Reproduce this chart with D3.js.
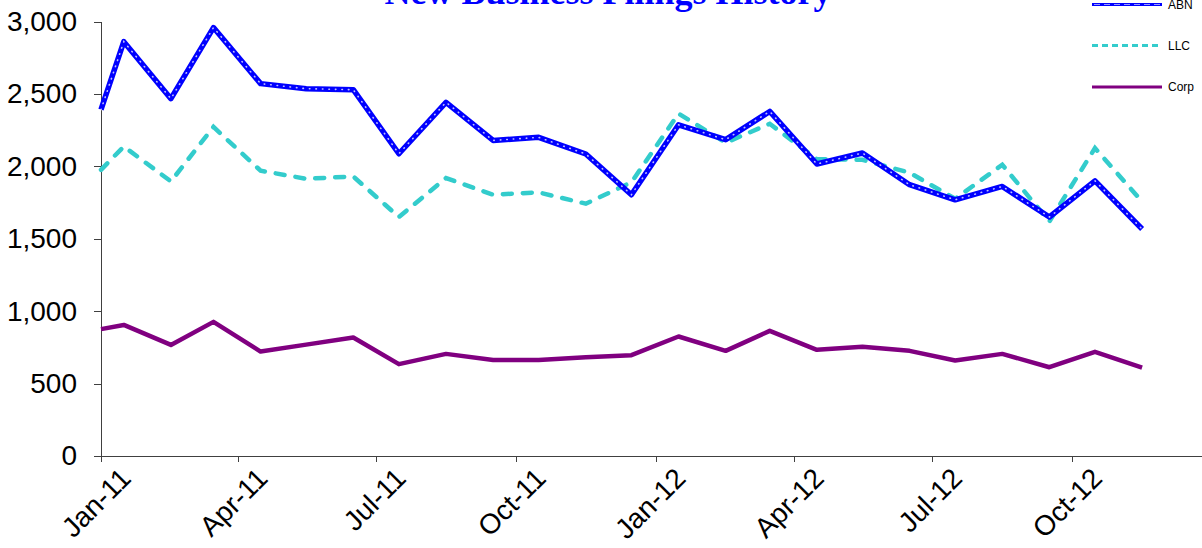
<!DOCTYPE html>
<html lang="en">
<head>
    <meta charset="UTF-8">
    <title>New Business Filings History</title>
    <script src="https://d3js.org/d3.v7.min.js"></script>
    <style>
        body {
            margin: 0;
            background-color: #ffffff;
            font-family: Arial, "Liberation Sans", sans-serif;
        }
        svg { display: block; }
        .axis path, .axis line {
            stroke: #404040;
            shape-rendering: crispEdges;
        }
        .tick text {
            font-size: 28px;
            fill: #000000;
            font-family: Arial, "Liberation Sans", sans-serif;
        }
    </style>
</head>
<body>
    <svg id="chart" width="1202" height="548"></svg>

    <script>
        // first point sits on the axis start, the rest are mid-month
        const dates = ["2011-01-01", "2011-01-16", "2011-02-16", "2011-03-16", "2011-04-16", "2011-05-16",
            "2011-06-16", "2011-07-16", "2011-08-16", "2011-09-16", "2011-10-16", "2011-11-16",
            "2011-12-16", "2012-01-16", "2012-02-16", "2012-03-16", "2012-04-16", "2012-05-16",
            "2012-06-16", "2012-07-16", "2012-08-16", "2012-09-16", "2012-10-16", "2012-11-16"];

        const abn = [2391, 2861, 2467, 2958, 2571, 2536, 2529, 2087, 2442, 2179, 2200, 2085,
            1804, 2287, 2184, 2379, 2016, 2092, 1873, 1769, 1861, 1650, 1900, 1567];
        const llc = [1976, 2137, 1896, 2272, 1970, 1914, 1930, 1650, 1919, 1804, 1820, 1742,
            1890, 2364, 2163, 2294, 2050, 2045, 1956, 1776, 2011, 1619, 2126, 1757];
        const corp = [876, 905, 767, 926, 721, 769, 818, 634, 705, 663, 663, 682,
            696, 825, 726, 864, 733, 755, 726, 659, 705, 613, 719, 610];

        const yTicks = [0, 500, 1000, 1500, 2000, 2500, 3000];
        const xTicks = ["2011-01-01", "2011-04-01", "2011-07-01", "2011-10-01",
            "2012-01-01", "2012-04-01", "2012-07-01", "2012-10-01"];
        const seriesNames = ["ABN", "LLC", "Corp"];

        const parse = d3.timeParse("%Y-%m-%d");
        const dateVals = dates.map(parse);

        const svg = d3.select("#chart");

        const x = d3.scaleTime()
            .domain([parse("2011-01-01"), parse("2013-01-01")])
            .range([101, 1212]);
        const y = d3.scaleLinear().domain([0, 3000]).range([456, 21.5]);

        // title (partly above the picture, as in the original)
        svg.append("text")
            .attr("x", 608)
            .attr("y", 4)
            .attr("text-anchor", "middle")
            .attr("font-family", "'Liberation Serif', 'Times New Roman', serif")
            .attr("font-weight", "bold")
            .attr("font-size", 36)
            .attr("fill", "#0000ff")
            .text("New Business Filings History");

        // axes
        const yAxis = d3.axisLeft(y).tickValues(yTicks).tickFormat(d3.format(",")).tickSize(7).tickSizeOuter(0).tickPadding(17);
        svg.append("g").attr("class", "axis").attr("transform", "translate(101,0)").call(yAxis);

        const xAxis = d3.axisBottom(x).tickValues(xTicks.map(parse)).tickFormat(d3.timeFormat("%b-%y")).tickSize(6).tickSizeOuter(0);
        const gx = svg.append("g").attr("class", "axis").attr("transform", "translate(0,456)").call(xAxis);
        gx.selectAll(".tick text")
            .attr("text-anchor", "end")
            .attr("dy", null)
            .attr("y", 0)
            .attr("transform", "translate(31,24) rotate(-45)");

        const line = d3.line()
            .x((d, i) => x(dateVals[i]))
            .y(d => y(d));

        // Corp
        svg.append("path").datum(corp)
            .attr("d", line)
            .attr("fill", "none")
            .attr("stroke", "#800080")
            .attr("stroke-width", 4.5)
            .attr("stroke-linejoin", "round");

        // LLC
        svg.append("path").datum(llc)
            .attr("d", line)
            .attr("fill", "none")
            .attr("stroke", "#33cccc")
            .attr("stroke-width", 4.5)
            .attr("stroke-linecap", "round")
            .attr("stroke-dasharray", "9 11");

        // ABN: blue with white dots
        svg.append("path").datum(abn)
            .attr("d", line)
            .attr("fill", "none")
            .attr("stroke", "#0000ff")
            .attr("stroke-width", 5.5)
            .attr("stroke-linejoin", "round");
        svg.append("path").datum(abn)
            .attr("d", line)
            .attr("fill", "none")
            .attr("stroke", "#ffffff")
            .attr("stroke-opacity", 0.75)
            .attr("stroke-width", 1.6)
            .attr("stroke-linecap", "round")
            .attr("stroke-dasharray", "0.5 6");

        // legend
        const legendY = [4.5, 45.5, 87];
        const legend = svg.append("g");
        seriesNames.forEach((name, i) => {
            const g = legend.append("g").attr("transform", `translate(0,${legendY[i]})`);
            if (name === "ABN") {
                g.append("line").attr("x1", 1092).attr("x2", 1162).attr("y1", 0).attr("y2", 0)
                    .attr("stroke", "#0000ff").attr("stroke-width", 3);
                g.append("line").attr("x1", 1094).attr("x2", 1162).attr("y1", 0).attr("y2", 0)
                    .attr("stroke", "#ffffff").attr("stroke-width", 1).attr("stroke-dasharray", "6 4").attr("stroke-opacity", 0.6);
            } else if (name === "LLC") {
                g.append("line").attr("x1", 1092).attr("x2", 1162).attr("y1", 0).attr("y2", 0)
                    .attr("stroke", "#33cccc").attr("stroke-width", 3).attr("stroke-dasharray", "6 4");
            } else {
                g.append("line").attr("x1", 1092).attr("x2", 1162).attr("y1", 0).attr("y2", 0)
                    .attr("stroke", "#800080").attr("stroke-width", 3);
            }
            g.append("text").attr("x", 1168).attr("y", 0).attr("dy", "0.35em")
                .attr("font-size", 12).attr("fill", "#000").text(name);
        });
    </script>
</body>
</html>
